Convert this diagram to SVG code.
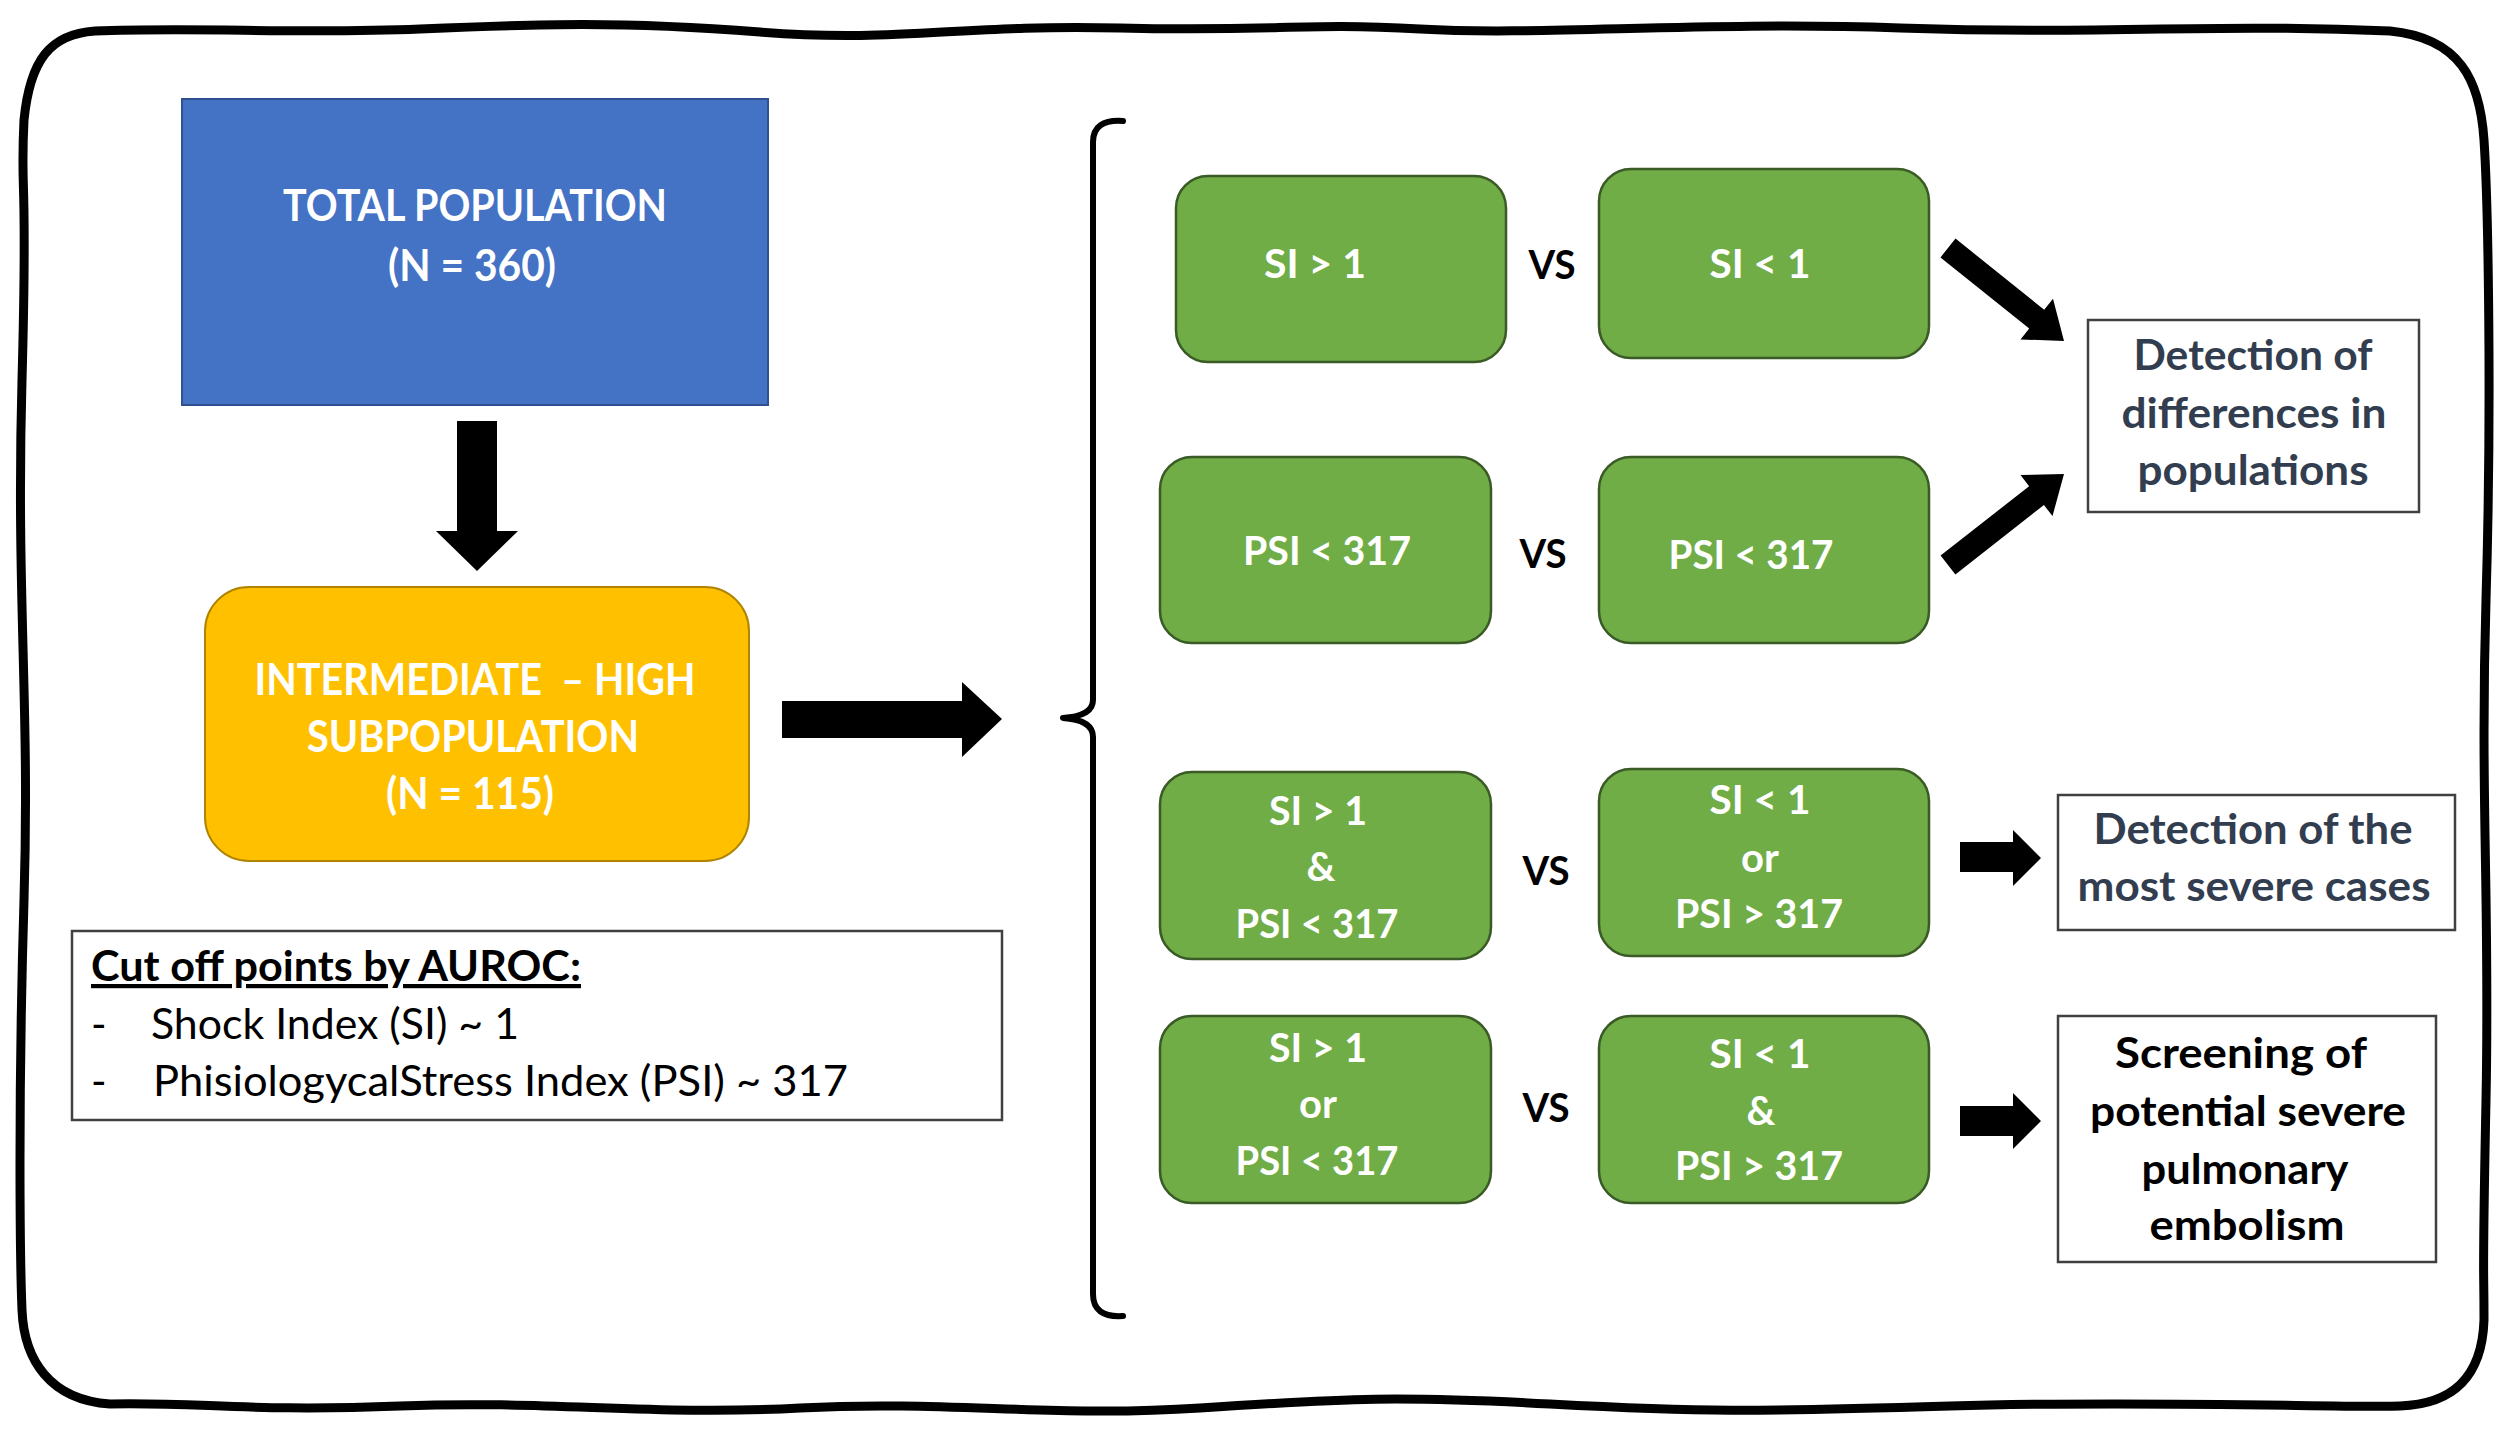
<svg xmlns="http://www.w3.org/2000/svg" width="2508" height="1430" viewBox="0 0 2508 1430">
<style>
.t{font-family:Lato,"Open Sans","Liberation Sans",sans-serif;text-anchor:middle}
.wb{fill:#fff;font-weight:700}
.bk{fill:#000;font-weight:700}
.nv{fill:#323E4F;font-weight:700}
.rg{font-family:Lato,"Open Sans","Liberation Sans",sans-serif;fill:#000;font-weight:400}
.g{fill:#70AD47;stroke:#3A5A26;stroke-width:2.5}
.wbox{fill:#fff;stroke:#404040;stroke-width:2.5}
.arrow{fill:#000;stroke:none}
</style>
<rect width="2508" height="1430" fill="#fff"/>
<g id="frame">
<path d="M95,31 C200,27 300,34 420,29 S620,21 760,32 S960,24 1120,28 S1300,22 1420,29 S1700,21 1900,28 S2200,23 2390,31 C2460,38 2480,80 2484,140 S2492,400 2486,600 S2490,900 2486,1100 S2484,1250 2484,1320 C2482,1380 2450,1404 2400,1406 S2150,1400 1950,1406 S1700,1412 1550,1404 S1350,1398 1200,1408 S950,1400 800,1408 S550,1400 400,1406 S200,1402 110,1404 C50,1400 24,1360 22,1310 S18,1100 24,900 S16,600 22,380 S20,200 24,120 C30,60 50,34 95,31 Z" fill="none" stroke="#000" stroke-width="9" stroke-linejoin="round"/>
</g>
<g id="total">
<rect x="182" y="99" width="586" height="306" fill="#4472C4" stroke="#2F528F" stroke-width="2"/>
<text class="t wb" x="475" y="221" font-size="44" textLength="384" lengthAdjust="spacingAndGlyphs">TOTAL POPULATION</text>
<text class="t wb" x="472" y="281" font-size="44" textLength="168" lengthAdjust="spacingAndGlyphs">(N = 360)</text>
</g>
<g id="intermediate">
<rect x="205" y="587" width="544" height="274" rx="44" fill="#FFC000" stroke="#B08400" stroke-width="2"/>
<text class="t wb" x="475" y="695" font-size="43" textLength="441" lengthAdjust="spacingAndGlyphs" style="white-space:pre">INTERMEDIATE  – HIGH</text>
<text class="t wb" x="473" y="752" font-size="43" textLength="332" lengthAdjust="spacingAndGlyphs">SUBPOPULATION</text>
<text class="t wb" x="470" y="809" font-size="43" textLength="168" lengthAdjust="spacingAndGlyphs">(N = 115)</text>
</g>
<g id="cutoff">
<rect x="72" y="931" width="930" height="189" fill="#fff" stroke="#404040" stroke-width="2.5"/>
<text class="rg" x="91" y="981" font-size="42" textLength="490" lengthAdjust="spacingAndGlyphs" text-decoration="underline" style="font-weight:700">Cut off points by AUROC:</text>
<text class="rg" x="91" y="1039" font-size="42">-</text>
<text class="rg" x="151" y="1039" font-size="42" textLength="368" lengthAdjust="spacingAndGlyphs">Shock Index (SI) ~ 1</text>
<text class="rg" x="91" y="1096" font-size="42">-</text>
<text class="rg" x="153" y="1096" font-size="42" textLength="695" lengthAdjust="spacingAndGlyphs">PhisiologycalStress Index (PSI) ~ 317</text>
</g>
<g id="si-gt-1">
<rect class="g" x="1176" y="176" width="330" height="186" rx="32"/>
<text class="t wb" x="1315" y="278" font-size="40" textLength="102" lengthAdjust="spacingAndGlyphs">SI &gt; 1</text>
</g>
<g id="si-lt-1">
<rect class="g" x="1599" y="169" width="330" height="189" rx="32"/>
<text class="t wb" x="1760" y="278" font-size="40" textLength="101" lengthAdjust="spacingAndGlyphs">SI &lt; 1</text>
</g>
<g id="psi-a">
<rect class="g" x="1160" y="457" width="331" height="186" rx="32"/>
<text class="t wb" x="1327" y="565" font-size="40" textLength="168" lengthAdjust="spacingAndGlyphs">PSI &lt; 317</text>
</g>
<g id="psi-b">
<rect class="g" x="1599" y="457" width="330" height="186" rx="32"/>
<text class="t wb" x="1751" y="569" font-size="40" textLength="165" lengthAdjust="spacingAndGlyphs">PSI &lt; 317</text>
</g>
<g id="and-a">
<rect class="g" x="1160" y="772" width="331" height="187" rx="32"/>
<text class="t wb" x="1318" y="825" font-size="40" textLength="98" lengthAdjust="spacingAndGlyphs">SI &gt; 1</text>
<text class="t wb" x="1321" y="881" font-size="40">&amp;</text>
<text class="t wb" x="1317" y="938" font-size="40" textLength="163" lengthAdjust="spacingAndGlyphs">PSI &lt; 317</text>
</g>
<g id="or-b">
<rect class="g" x="1599" y="769" width="330" height="187" rx="32"/>
<text class="t wb" x="1760" y="814" font-size="40" textLength="101" lengthAdjust="spacingAndGlyphs">SI &lt; 1</text>
<text class="t wb" x="1760" y="872" font-size="40">or</text>
<text class="t wb" x="1759" y="928" font-size="40" textLength="168" lengthAdjust="spacingAndGlyphs">PSI &gt; 317</text>
</g>
<g id="or-a">
<rect class="g" x="1160" y="1016" width="331" height="187" rx="32"/>
<text class="t wb" x="1318" y="1062" font-size="40" textLength="98" lengthAdjust="spacingAndGlyphs">SI &gt; 1</text>
<text class="t wb" x="1318" y="1118" font-size="40">or</text>
<text class="t wb" x="1317" y="1175" font-size="40" textLength="163" lengthAdjust="spacingAndGlyphs">PSI &lt; 317</text>
</g>
<g id="and-b">
<rect class="g" x="1599" y="1016" width="330" height="187" rx="32"/>
<text class="t wb" x="1760" y="1068" font-size="40" textLength="101" lengthAdjust="spacingAndGlyphs">SI &lt; 1</text>
<text class="t wb" x="1761" y="1125" font-size="40">&amp;</text>
<text class="t wb" x="1759" y="1180" font-size="40" textLength="168" lengthAdjust="spacingAndGlyphs">PSI &gt; 317</text>
</g>
<g id="vs-labels">
<text class="t bk" x="1552" y="279" font-size="40" textLength="47" lengthAdjust="spacingAndGlyphs">VS</text>
<text class="t bk" x="1543" y="568" font-size="40" textLength="47" lengthAdjust="spacingAndGlyphs">VS</text>
<text class="t bk" x="1546" y="885" font-size="40" textLength="47" lengthAdjust="spacingAndGlyphs">VS</text>
<text class="t bk" x="1546" y="1122" font-size="40" textLength="47" lengthAdjust="spacingAndGlyphs">VS</text>
</g>
<g id="differences">
<rect class="wbox" x="2088" y="320" width="331" height="192"/>
<text class="t nv" x="2253" y="370" font-size="42" textLength="239" lengthAdjust="spacingAndGlyphs">Detection of</text>
<text class="t nv" x="2254" y="428" font-size="42" textLength="265" lengthAdjust="spacingAndGlyphs">differences in</text>
<text class="t nv" x="2253" y="485" font-size="42" textLength="231" lengthAdjust="spacingAndGlyphs">populations</text>
</g>
<g id="severe">
<rect class="wbox" x="2058" y="795" width="397" height="135"/>
<text class="t nv" x="2253" y="844" font-size="42" textLength="319" lengthAdjust="spacingAndGlyphs">Detection of the</text>
<text class="t nv" x="2254" y="901" font-size="42" textLength="353" lengthAdjust="spacingAndGlyphs">most severe cases</text>
</g>
<g id="screening">
<rect class="wbox" x="2058" y="1016" width="378" height="246"/>
<text class="t bk" x="2241" y="1068" font-size="42" textLength="252" lengthAdjust="spacingAndGlyphs">Screening of</text>
<text class="t bk" x="2248" y="1126" font-size="42" textLength="316" lengthAdjust="spacingAndGlyphs">potential severe</text>
<text class="t bk" x="2245" y="1184" font-size="42" textLength="207" lengthAdjust="spacingAndGlyphs">pulmonary</text>
<text class="t bk" x="2247" y="1240" font-size="42" textLength="195" lengthAdjust="spacingAndGlyphs">embolism</text>
</g>
<g id="connectors">
<polygon class="arrow" points="457,421 497,421 497,531 518,531 477,571 436,531 457,531"/>
<polygon class="arrow" points="782,701 962,701 962,682 1002,719 962,757 962,738 782,738"/>
<path d="M1123,121 Q1093,119 1093,142 L1093,700 Q1093,716 1063,718 Q1093,720 1093,737 L1093,1294 Q1093,1318 1123,1316" fill="none" stroke="#000" stroke-width="6" stroke-linecap="round" stroke-linejoin="round"/>
<polygon class="arrow" points="1940.5,257.4 2029.2,328.5 2020.5,339.4 2064,341 2053,298.8 2044.2,309.7 1955.5,238.6"/>
<polygon class="arrow" points="1955.4,574.4 2043.9,505 2052.5,516.1 2064,474 2020.5,475.1 2029.1,486.2 1940.6,555.6"/>
<polygon class="arrow" points="1960,842 2013,842 2013,830 2041,858 2013,886 2013,872 1960,872"/>
<polygon class="arrow" points="1960,1106 2013,1106 2013,1093 2041,1121 2013,1149 2013,1136 1960,1136"/>
</g>
</svg>
